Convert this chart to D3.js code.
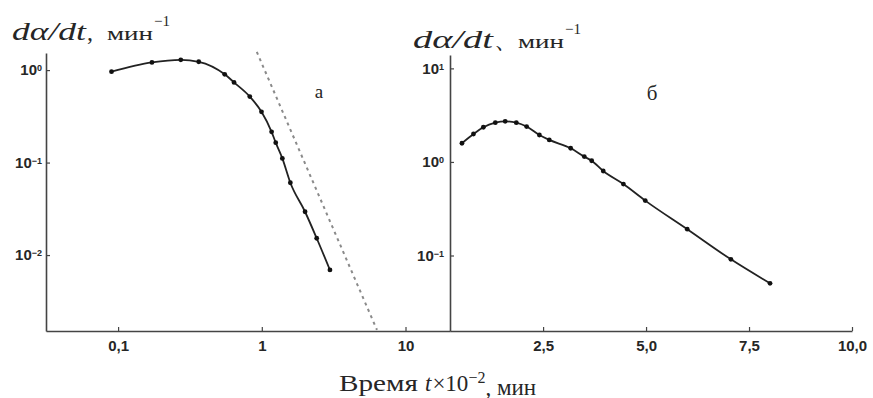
<!DOCTYPE html>
<html>
<head>
<meta charset="utf-8">
<script src="https://cdn.jsdelivr.net/npm/d3@7/dist/d3.min.js"></script>
<style>
  body { margin: 0; background: #fff; }
  svg { display: block; }
</style>
</head>
<body>
<svg id="chart" width="873" height="398"></svg>
<script>
// Panel "а": log-log, time ×10^-2 min vs dα/dt
const timeA = [0.090, 0.172, 0.273, 0.364, 0.552, 0.641, 0.825, 0.995, 1.17, 1.25, 1.39, 1.58, 2.00, 2.41, 2.98];
const rateA = [0.96, 1.21, 1.29, 1.23, 0.90, 0.736, 0.517, 0.354, 0.215, 0.164, 0.111, 0.0605, 0.0294, 0.0152, 0.0069];

// Dashed reference line in panel "а" (end points)
const refTime = [0.923, 6.33];
const refRate = [1.57, 0.00155];

// Panel "б": linear time, log rate
const timeB = [0.53, 0.81, 1.05, 1.34, 1.58, 1.85, 2.10, 2.41, 2.65, 3.17, 3.50, 3.68, 3.96, 4.45, 4.98, 6.00, 7.06, 8.01];
const rateB = [1.585, 1.99, 2.35, 2.63, 2.72, 2.63, 2.39, 1.94, 1.72, 1.40, 1.14, 1.03, 0.80, 0.58, 0.386, 0.191, 0.091, 0.0504];

// Tick values and labels
const xTicksA = [0.1, 1, 10];
const xTickLabelsA = ["0,1", "1", "10"];
const yTicksA = [1, 0.1, 0.01];
const yTickExpA = ["0", "\u22121", "\u22122"];
const xTicksB = [2.5, 5, 7.5, 10];
const xTickLabelsB = ["2,5", "5,0", "7,5", "10,0"];
const yTicksB = [10, 1, 0.1];
const yTickExpB = ["1", "0", "\u22121"];

const svg = d3.select("#chart");
const SANS = "'Liberation Sans', Arial, sans-serif";
const SERIF = "'Liberation Serif', 'Times New Roman', serif";
const INK = "#262626";

// Scales
const xA = d3.scaleLog().domain([0.0315, 20.4]).range([46, 450]);
const yA = d3.scaleLog().domain([0.00151, 1.53]).range([331, 53]);
const xB = d3.scaleLinear().domain([0.24, 10]).range([450, 852]);
const yB = d3.scaleLog().domain([0.0156, 13.9]).range([331, 55]);

function styleAxis(g) {
  g.select(".domain").attr("stroke", "#444").attr("stroke-width", 1.6);
  g.selectAll(".tick line").attr("stroke", "#444").attr("stroke-width", 1.2);
  g.selectAll("text").attr("fill", INK).attr("font-family", SANS)
    .attr("font-size", 15).attr("font-weight", 600);
}

function powerLabels(g, exps) {
  g.selectAll(".tick text").each(function(d, i) {
    const t = d3.select(this);
    t.text(null);
    t.append("tspan").text("10");
    t.append("tspan").attr("dy", "-0.45em").attr("font-size", 9).text(exps[i]);
  });
}

// Panel а axes
const gxA = svg.append("g").attr("transform", "translate(0,331)")
  .call(d3.axisBottom(xA).tickValues(xTicksA).tickFormat((d, i) => xTickLabelsA[i])
    .tickSizeInner(-4).tickSizeOuter(0).tickPadding(9));
styleAxis(gxA);

const gyA = svg.append("g").attr("transform", "translate(46,0)")
  .call(d3.axisLeft(yA).tickValues(yTicksA).tickSizeInner(-4).tickSizeOuter(0).tickPadding(4));
styleAxis(gyA);
powerLabels(gyA, yTickExpA);

// Panel б axes
const gxB = svg.append("g").attr("transform", "translate(0,331)")
  .call(d3.axisBottom(xB).tickValues(xTicksB).tickFormat((d, i) => xTickLabelsB[i])
    .tickSizeInner(-4).tickSizeOuter(0).tickPadding(9));
styleAxis(gxB);

const gyB = svg.append("g").attr("transform", "translate(450,0)")
  .call(d3.axisLeft(yB).tickValues(yTicksB).tickSizeInner(-4).tickSizeOuter(0).tickPadding(6));
styleAxis(gyB);
powerLabels(gyB, yTickExpB);

// Dashed reference line
svg.append("line")
  .attr("x1", xA(refTime[0])).attr("y1", yA(refRate[0]))
  .attr("x2", xA(refTime[1])).attr("y2", yA(refRate[1]))
  .attr("stroke", "#8a8a8a").attr("stroke-width", 2)
  .attr("stroke-dasharray", "3,4");

// Data curves with markers
function series(xs, ys, x, y) {
  const pts = xs.map((v, i) => [x(v), y(ys[i])]);
  svg.append("path")
    .attr("d", d3.line().curve(d3.curveMonotoneX)(pts))
    .attr("fill", "none").attr("stroke", "#222").attr("stroke-width", 1.8);
  svg.append("g").selectAll("circle").data(pts).join("circle")
    .attr("cx", d => d[0]).attr("cy", d => d[1]).attr("r", 2.4).attr("fill", "#111");
}
series(timeA, rateA, xA, yA);
series(timeB, rateB, xB, yB);

// Y axis titles: dα/dt, мин^-1
function yTitle(x, y, w1, sep, xSep, x2, w2) {
  svg.append("text").attr("x", x).attr("y", y)
    .attr("font-family", SERIF).attr("font-style", "italic").attr("font-size", 26)
    .attr("textLength", w1).attr("lengthAdjust", "spacingAndGlyphs")
    .attr("fill", INK).text("d\u03b1/dt");
  svg.append("text").attr("x", xSep).attr("y", y)
    .attr("font-family", SERIF).attr("font-size", 24)
    .attr("fill", INK).text(sep);
  svg.append("text").attr("x", x2).attr("y", y)
    .attr("font-family", SERIF).attr("font-size", 19)
    .attr("textLength", w2).attr("lengthAdjust", "spacingAndGlyphs")
    .attr("fill", INK).text("\u043c\u0438\u043d");
  svg.append("text").attr("x", x2 + w2 + 1).attr("y", y - 14)
    .attr("font-family", SERIF).attr("font-size", 15)
    .attr("fill", INK).text("\u22121");
}
yTitle(12, 40, 74, ",", 87, 107, 46);
yTitle(413, 48, 80, "\u3001", 494, 518, 46);

// Panel letters
svg.append("text").attr("x", 319).attr("y", 98).attr("text-anchor", "middle")
  .attr("font-family", SERIF).attr("font-size", 19).attr("fill", INK).text("\u0430");
svg.append("text").attr("x", 652).attr("y", 100).attr("text-anchor", "middle")
  .attr("font-family", SERIF).attr("font-size", 21).attr("fill", INK).text("\u0431");

// X axis title: Время t×10^-2, мин
const xt = svg.append("text").attr("y", 391)
  .attr("font-family", SERIF).attr("font-size", 23).attr("fill", INK);
xt.append("tspan").attr("x", 339).attr("textLength", 79).attr("lengthAdjust", "spacingAndGlyphs")
  .text("\u0412\u0440\u0435\u043c\u044f");
xt.append("tspan").attr("x", 425).attr("font-style", "italic").text("t");
xt.append("tspan").attr("dx", 1).text("\u00d710");
xt.append("tspan").attr("dy", "-0.5em").attr("font-size", 16).text("\u22122");
xt.append("tspan").attr("dy", "0.5em").text(", \u043c\u0438\u043d");
</script>
</body>
</html>
